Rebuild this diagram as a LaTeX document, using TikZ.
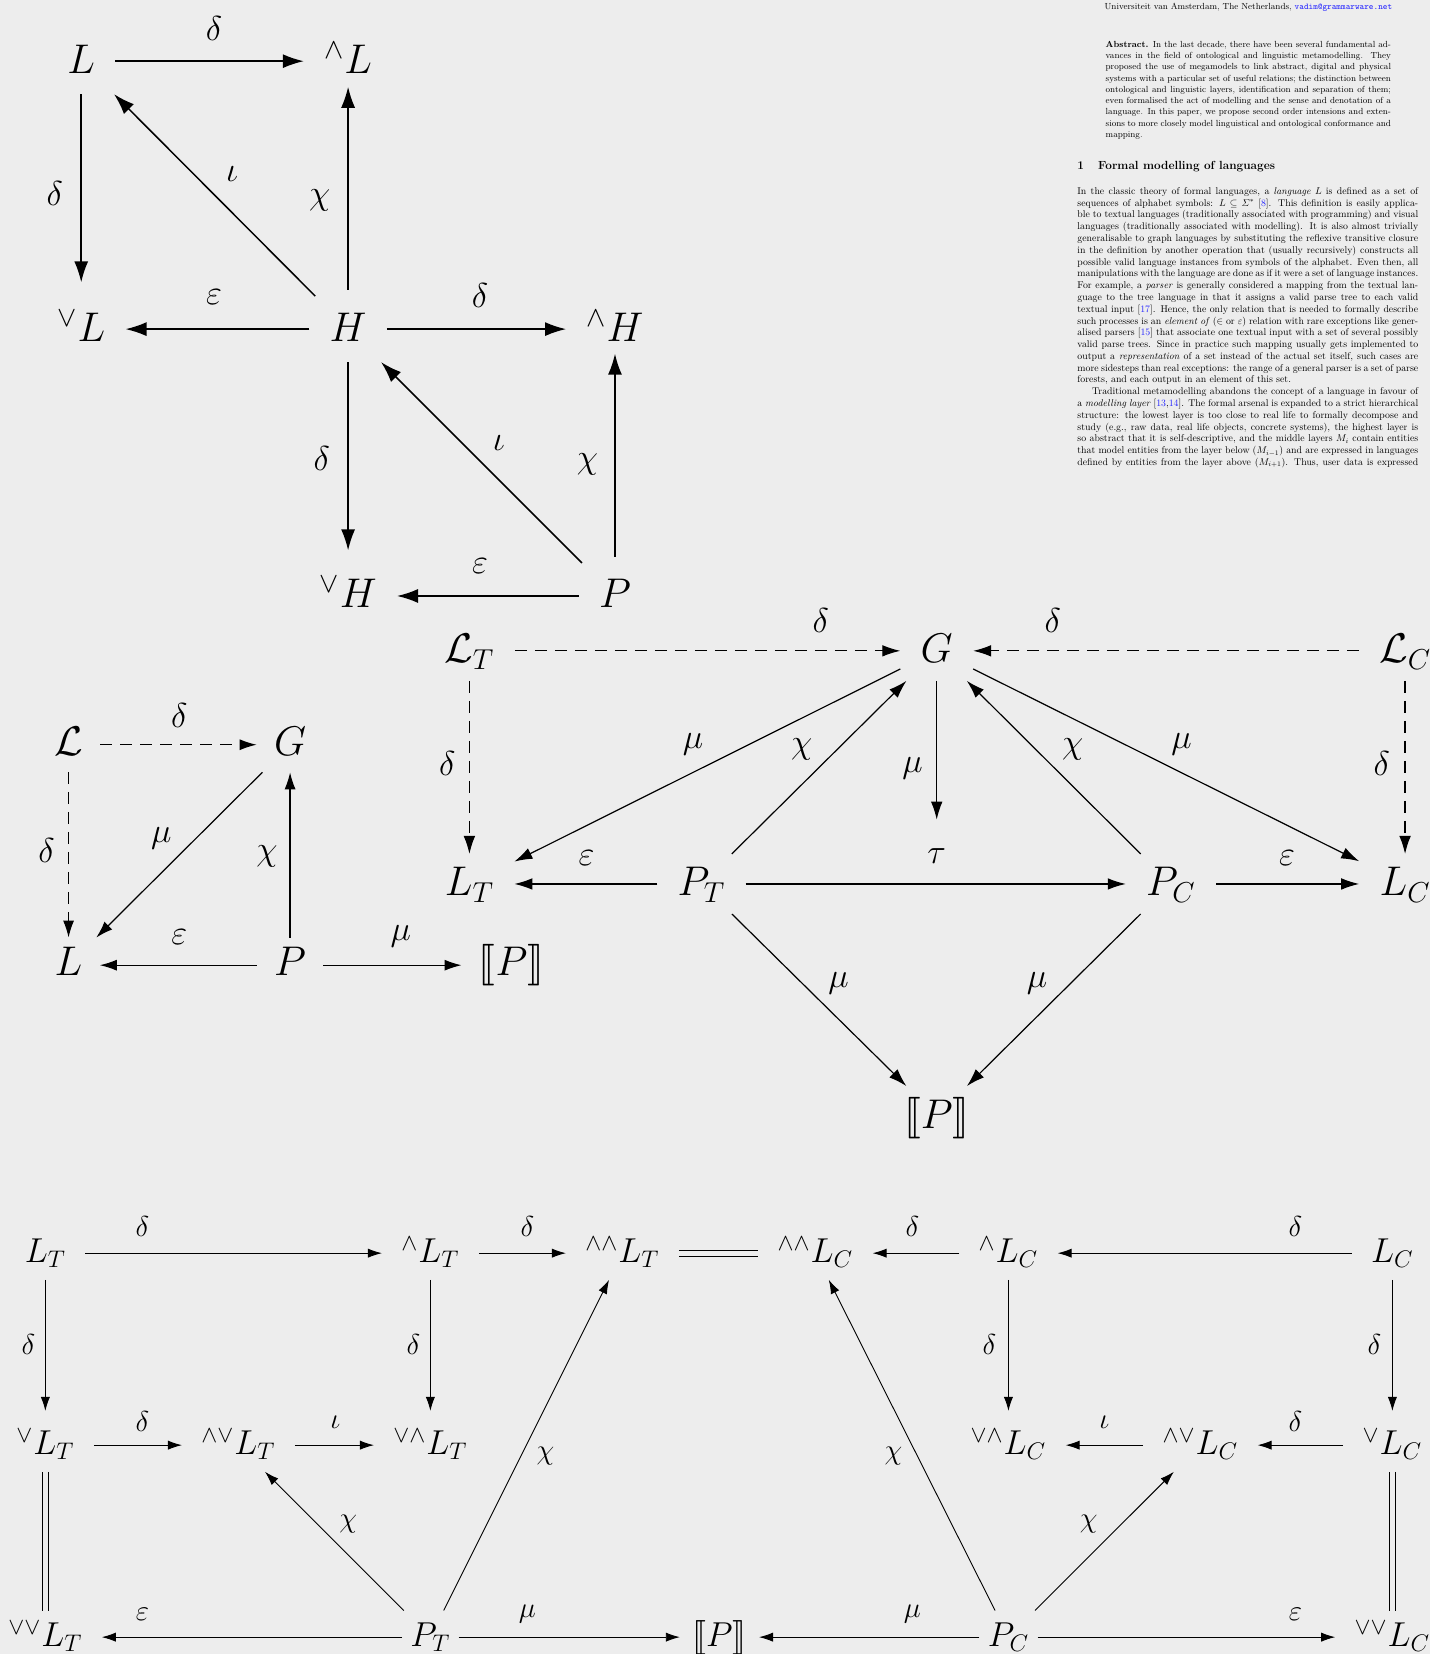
\documentclass[tikz,border=0pt]{standalone}
\usepackage{amsmath,amssymb,stmaryrd}
\usepackage{graphicx}
\usetikzlibrary{arrows.meta}
\definecolor{bgc}{RGB}{237,237,237}
\definecolor{lnk}{RGB}{35,35,255}
\begin{document}
\begin{tikzpicture}[x=0.5273pt,y=-0.5273pt]
\tikzset{
 cellA/.style={font=\fontsize{22}{26}\selectfont,text height=15.5pt,text depth=3.5pt,inner xsep=10pt,inner ysep=6.8pt},
 cellB/.style={font=\fontsize{20}{24}\selectfont,text height=14pt,text depth=3.2pt,inner xsep=8.5pt,inner ysep=5pt},
 cellC/.style={font=\fontsize{21.5}{25}\selectfont,text height=16pt,text depth=4pt,inner xsep=10pt,inner ysep=4.8pt},
 cellD/.style={font=\fontsize{16.5}{20}\selectfont,text height=12.5pt,text depth=3.1pt,inner xsep=9.5pt,inner ysep=5.3pt},
 tight/.style={inner xsep=4pt},
 semitight/.style={inner xsep=6pt},
 labA/.style={font=\fontsize{18}{21}\selectfont,inner sep=0pt},
 labB/.style={font=\fontsize{16.5}{20}\selectfont,inner sep=0pt},
 labC/.style={font=\fontsize{18}{21}\selectfont,inner sep=0pt},
 labD/.style={font=\fontsize{15}{18}\selectfont,inner sep=0pt},
 arA/.style={-{Latex[length=10.5pt,width=7pt]},line width=0.75pt},
 arB/.style={-{Latex[length=8.5pt,width=5.5pt]},line width=0.6pt},
 arC/.style={-{Latex[length=9pt,width=5.8pt]},line width=0.6pt},
 arD/.style={-{Latex[length=7pt,width=4.6pt]},line width=0.45pt},
 dsh/.style={dash pattern=on 6pt off 4pt},
 eqD/.style={line width=0.5pt,double=bgc,double distance=2.5pt},
 txt/.style={inner sep=0pt}
}
% background / bounding box
\fill[bgc] (0,0) rectangle (1356,1568);
\useasboundingbox (0,0) rectangle (1356,1568);

% ---------------- text block ----------------
\node[txt,anchor=base] (inst) at (1183.5,9) {\scalebox{0.491}{\fontsize{9}{11}\selectfont Universiteit van Amsterdam, The Netherlands, {\color{lnk}\texttt{vadim@grammarware.net}}}};
\node[txt,anchor=base west] (abst) at (1047.8,45) {\scalebox{0.491}{\parbox[t]{290.5pt}{\fontsize{9}{11.45}\selectfont\tolerance=10000
\textbf{Abstract.} In the last decade, there have been several fundamental ad-\linebreak
vances in the field of ontological and linguistic metamodelling. They\linebreak
proposed the use of megamodels to link abstract, digital and physical\linebreak
systems with a particular set of useful relations; the distinction between\linebreak
ontological and linguistic layers, identification and separation of them;\linebreak
even formalised the act of modelling and the sense and denotation of a\linebreak
language. In this paper, we propose second order intensions and exten-\linebreak
sions to more closely model linguistical and ontological conformance and\linebreak
mapping.}}};
\node[txt,anchor=base west] (sect) at (1021,160.5) {\scalebox{0.491}{\fontsize{12}{14}\selectfont\bfseries 1\hspace{1.2em}Formal modelling of languages}};
\node[txt,anchor=base west] (body) at (1021,184.3) {\scalebox{0.491}{\parbox[t]{347pt}{\fontsize{10}{12}\selectfont\tolerance=10000
In the classic theory of formal languages, a \emph{language} $L$ is defined as a set of\linebreak
sequences of alphabet symbols: $L\subseteq\varSigma^*$ [{\color{lnk}8}]. This definition is easily applica-\linebreak
ble to textual languages (traditionally associated with programming) and visual\linebreak
languages (traditionally associated with modelling). It is also almost trivially\linebreak
generalisable to graph languages by substituting the reflexive transitive closure\linebreak
in the definition by another operation that (usually recursively) constructs all\linebreak
possible valid language instances from symbols of the alphabet. Even then, all\linebreak
manipulations with the language are done as if it were a set of language instances.\linebreak
For example, a \emph{parser} is generally considered a mapping from the textual lan-\linebreak
guage to the tree language in that it assigns a valid parse tree to each valid\linebreak
textual input [{\color{lnk}17}]. Hence, the only relation that is needed to formally describe\linebreak
such processes is an \emph{element of} ($\in$ or $\varepsilon$) relation with rare exceptions like gener-\linebreak
alised parsers [{\color{lnk}15}] that associate one textual input with a set of several possibly\linebreak
valid parse trees. Since in practice such mapping usually gets implemented to\linebreak
output a \emph{representation} of a set instead of the actual set itself, such cases are\linebreak
more sidesteps than real exceptions: the range of a general parser is a set of parse\linebreak
forests, and each output in an element of this set.\par
\hspace*{15pt}Traditional metamodelling abandons the concept of a language in favour of\linebreak
a \emph{modelling layer} [{\color{lnk}13},{\color{lnk}14}]. The formal arsenal is expanded to a strict hierarchical\linebreak
structure: the lowest layer is too close to real life to formally decompose and\linebreak
study (e.g., raw data, real life objects, concrete systems), the highest layer is\linebreak
so abstract that it is self-descriptive, and the middle layers $M_i$ contain entities\linebreak
that model entities from the layer below ($M_{i-1}$) and are expressed in languages\linebreak
defined by entities from the layer above ($M_{i+1}$). Thus, user data is expressed\parfillskip=0pt\par}}};

% ---------------- diagram 1 ----------------
\node[cellA] (aL)  at (77,58)  {$L$};
\node[cellA] (ahL) at (330,58) {${}^{\wedge}L$};
\node[cellA] (avL) at (77,312) {${}^{\vee}L$};
\node[cellA] (aH)  at (330,312) {$H$};
\node[cellA] (ahH) at (583,312) {${}^{\wedge}H$};
\node[cellA] (avH) at (330,565) {${}^{\vee}H$};
\node[cellA] (aP)  at (583,565) {$P$};
\draw[arA] (aL) -- (ahL) node[labA] (la1) at (203,27) {$\delta$};
\draw[arA,shorten >=6.9pt] (aL) -- (avL) node[labA] (la2) at (52,183) {$\delta$};
\draw[arA] (aH) -- (aL) node[labA] (la3) at (220,165) {$\iota$};
\draw[arA,shorten <=3.2pt,shorten >=-3.7pt] (aH) -- (ahL) node[labA] (la4) at (303,190) {$\chi$};
\draw[arA] (aH) -- (avL) node[labA] (la5) at (203,282) {$\varepsilon$};
\draw[arA] (aH) -- (ahH) node[labA] (la6) at (455,280) {$\delta$};
\draw[arA,shorten >=6.3pt] (aH) -- (avH) node[labA] (la7) at (305,435) {$\delta$};
\draw[arA] (aP) -- (aH) node[labA] (la8) at (473,420) {$\iota$};
\draw[arA,shorten <=3.2pt,shorten >=-4.2pt] (aP) -- (ahH) node[labA] (la9) at (557,440) {$\chi$};
\draw[arA] (aP) -- (avH) node[labA] (la10) at (455,537) {$\varepsilon$};

% ---------------- diagram 2 ----------------
\node[cellB] (bcL) at (65,706)  {$\mathcal{L}$};
\node[cellB] (bG)  at (275,706) {$G$};
\node[cellB] (bL)  at (65,915)  {$L$};
\node[cellB] (bP)  at (275,915) {$P$};
\node[cellB] (bS)  at (485,915) {$\llbracket P\rrbracket$};
\draw[arB,dsh] (bcL) -- (bG) node[labB] (lb1) at (170,678) {$\delta$};
\draw[arB,dsh] (bcL) -- (bL) node[labB] (lb2) at (44,806) {$\delta$};
\draw[arB] (bG) -- (bL) node[labB] (lb3) at (153,795) {$\mu$};
\draw[arB] (bP) -- (bG) node[labB] (lb4) at (253,812) {$\chi$};
\draw[arB] (bP) -- (bL) node[labB] (lb5) at (170,888) {$\varepsilon$};
\draw[arB] (bP) -- (bS) node[labB] (lb6) at (380,888) {$\mu$};

% ---------------- diagram 3 ----------------
\node[cellC] (ccLT) at (445,617)  {$\mathcal{L}_T$};
\node[cellC] (cG)   at (888,617)  {$G$};
\node[cellC] (ccLC) at (1332,617) {$\mathcal{L}_C$};
\node[cellC] (cLT)  at (445,838)  {$L_T$};
\node[cellC] (cPT)  at (665,838)  {$P_T$};
\node[cellC] (cPC)  at (1110,838) {$P_C$};
\node[cellC] (cLC)  at (1332,838) {$L_C$};
\node[cellC] (cS)   at (888,1058) {$\llbracket P\rrbracket$};
\coordinate (ctau) at (888,777);
\draw[arC,dsh] (ccLT) -- (cG) node[labC] (lc1) at (778,588) {$\delta$};
\draw[arC,dsh] (ccLC) -- (cG) node[labC] (lc2) at (998,588) {$\delta$};
\draw[arC,dsh] (ccLT) -- (cLT) node[labC] (lc3) at (424,724) {$\delta$};
\draw[arC,dsh] (ccLC) -- (cLC) node[labC] (lc4) at (1310,724) {$\delta$};
\draw[arC] (cG) -- (cLT) node[labC] (lc5) at (657,706) {$\mu$};
\draw[arC] (cPT) -- (cG) node[labC] (lc6) at (760,710) {$\chi$};
\draw[arC] (cG) -- (ctau) node[labC] (lc7) at (865,728) {$\mu$};
\draw[arC] (cPC) -- (cG) node[labC] (lc8) at (1017,710) {$\chi$};
\draw[arC] (cG) -- (cLC) node[labC] (lc9) at (1120,706) {$\mu$};
\draw[arC] (cPT) -- (cLT) node[labC] (lc10) at (556,813) {$\varepsilon$};
\draw[arC] (cPT) -- (cPC) node[labC] (lc11) at (888,812) {$\tau$};
\draw[arC] (cPC) -- (cLC) node[labC] (lc12) at (1220,813) {$\varepsilon$};
\draw[arC] (cPT) -- (cS) node[labC] (lc13) at (795,932) {$\mu$};
\draw[arC] (cPC) -- (cS) node[labC] (lc14) at (983,932) {$\mu$};

% ---------------- diagram 4 ----------------
\node[cellD] (dLT)   at (43,1188)   {$L_T$};
\node[cellD] (dhLT)  at (408,1188)  {${}^{\wedge}L_T$};
\node[cellD] (dhhLT) at (590,1188)  {${}^{\wedge\wedge}L_T$};
\node[cellD] (dhhLC) at (773,1188)  {${}^{\wedge\wedge}L_C$};
\node[cellD] (dhLC)  at (956,1188)  {${}^{\wedge}L_C$};
\node[cellD] (dLC)   at (1320,1188) {$L_C$};
\node[cellD] (dvLT)  at (43,1370)   {${}^{\vee}L_T$};
\node[cellD] (dhvLT) at (226,1370)  {${}^{\wedge\vee}L_T$};
\node[cellD] (dvhLT) at (408,1370)  {${}^{\vee\wedge}L_T$};
\node[cellD] (dvhLC) at (956,1370)  {${}^{\vee\wedge}L_C$};
\node[cellD] (dhvLC) at (1138,1370) {${}^{\wedge\vee}L_C$};
\node[cellD] (dvLC)  at (1320,1370) {${}^{\vee}L_C$};
\node[cellD] (dvvLT) at (43,1552)   {${}^{\vee\vee}L_T$};
\node[cellD,tight] (dPT) at (408,1552) {$P_T$};
\node[cellD,semitight] (dS) at (682,1552) {$\llbracket P\rrbracket$};
\node[cellD,tight] (dPC) at (956,1552) {$P_C$};
\node[cellD] (dvvLC) at (1320,1552) {${}^{\vee\vee}L_C$};
\draw[arD] (dLT) -- (dhLT) node[labD] (ld1) at (135,1163) {$\delta$};
\draw[arD] (dhLT) -- (dhhLT) node[labD] (ld2) at (500,1163) {$\delta$};
\draw[eqD] (dhhLT) -- (dhhLC);
\draw[arD] (dhLC) -- (dhhLC) node[labD] (ld3) at (865,1163) {$\delta$};
\draw[arD] (dLC) -- (dhLC) node[labD] (ld4) at (1228,1163) {$\delta$};
\draw[arD,shorten >=3.8pt] (dLT) -- (dvLT) node[labD] (ld5) at (27,1275) {$\delta$};
\draw[arD,shorten >=3.8pt] (dhLT) -- (dvhLT) node[labD] (ld6) at (392,1275) {$\delta$};
\draw[arD,shorten >=3.8pt] (dhLC) -- (dvhLC) node[labD] (ld7) at (938,1275) {$\delta$};
\draw[arD,shorten >=3.8pt] (dLC) -- (dvLC) node[labD] (ld8) at (1303,1275) {$\delta$};
\draw[arD] (dvLT) -- (dhvLT) node[labD] (ld9) at (135,1348) {$\delta$};
\draw[arD] (dhvLT) -- (dvhLT) node[labD] (ld10) at (318,1348) {$\iota$};
\draw[arD] (dhvLC) -- (dvhLC) node[labD] (ld11) at (1047,1348) {$\iota$};
\draw[arD] (dvLC) -- (dhvLC) node[labD] (ld12) at (1228,1348) {$\delta$};
\draw[eqD] (dvLT) -- (dvvLT);
\draw[eqD] (dvLC) -- (dvvLC);
\draw[arD] (dPT) -- (dvvLT) node[labD] (ld13) at (135,1530) {$\varepsilon$};
\draw[arD] (dPT) -- (dS) node[labD] (ld14) at (500,1530) {$\mu$};
\draw[arD] (dPC) -- (dS) node[labD] (ld15) at (865,1530) {$\mu$};
\draw[arD] (dPC) -- (dvvLC) node[labD] (ld16) at (1228,1530) {$\varepsilon$};
\draw[arD] (dPT) -- (dhvLT) node[labD] (ld17) at (330,1445) {$\chi$};
\draw[arD] (dPT) -- (dhhLT) node[labD] (ld18) at (517,1380) {$\chi$};
\draw[arD] (dPC) -- (dhhLC) node[labD] (ld19) at (847,1380) {$\chi$};
\draw[arD] (dPC) -- (dhvLC) node[labD] (ld20) at (1032,1445) {$\chi$};
\end{tikzpicture}
\end{document}
